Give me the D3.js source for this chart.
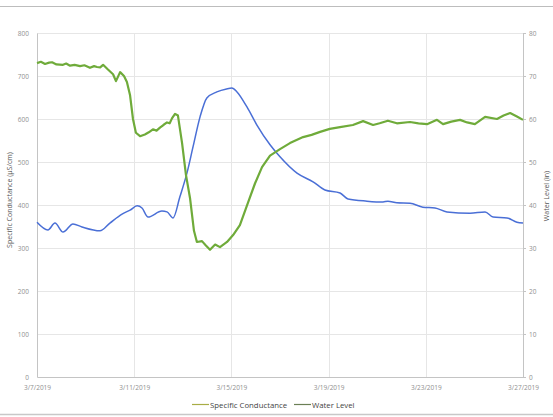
<!DOCTYPE html>
<html><head><meta charset="utf-8">
<script src="https://cdn.jsdelivr.net/npm/d3@7"></script>
<style>
html,body{margin:0;padding:0;background:#fff;}
svg{display:block;font-family:"Open Sans","Noto Sans",sans-serif;}
</style></head>
<body><svg id="c" width="553" height="417"></svg>
<script>
// ---- data ----
const startDate = Date.UTC(2019, 2, 7);
const dateTicks = ["3/7/2019","3/11/2019","3/15/2019","3/19/2019","3/23/2019","3/27/2019"];
const leftTicks = [0,100,200,300,400,500,600,700,800];
const rightTicks = [0,10,20,30,40,50,60,70,80];

// Specific Conductance (µS/cm), days since 3/7/2019
const condDays = [0,0.45,0.74,1.07,1.48,1.85,2.59,3.0,3.5,3.83,4.12,4.32,4.57,5.14,5.35,5.6,5.88,6.17,6.42,6.71,6.99,7.4,7.8,8.02,8.23,8.64,9.05,9.59,10.0,10.7,11.36,11.85,12.47,12.8,13.58,14.24,14.44,14.81,15.35,15.88,16.38,16.87,17.82,18.44,18.77,19.34,19.75,20];
const conductance = [360,342,358,337,356,349,340,358,379,388,398,393,372,386,384,370,419,474,535,605,649,663,670,672,663,628,586,540,512,474,454,435,428,414,409,407,409,405,404,395,393,384,381,384,372,370,360,358];

// Water Level (in)
const wlDays = [0,0.16,0.33,0.5,0.62,0.8,1.07,1.2,1.36,1.55,1.77,1.95,2.18,2.35,2.47,2.6,2.72,2.92,3.13,3.25,3.42,3.58,3.70,3.83,3.95,4.07,4.24,4.44,4.6,4.77,4.92,5.06,5.2,5.35,5.46,5.56,5.68,5.80,5.97,6.13,6.30,6.46,6.58,6.79,6.95,7.12,7.33,7.53,7.82,8.07,8.35,8.68,8.97,9.26,9.59,10.0,10.41,10.95,11.3,11.65,12.05,12.47,13.0,13.42,13.83,14.1,14.44,14.81,15.35,15.7,16.05,16.46,16.71,17.05,17.41,17.7,18.02,18.44,18.93,19.2,19.47,19.75,20.0];
const waterLevel = [73.0,73.3,72.8,73.1,73.2,72.7,72.6,72.9,72.4,72.6,72.3,72.5,71.9,72.3,72.1,72.0,72.6,71.5,70.4,68.8,70.9,70.0,68.6,65.5,60.0,56.8,56.0,56.4,56.9,57.6,57.3,58.0,58.6,59.2,59.0,60.2,61.2,60.8,54.4,47.0,41.5,34.0,31.4,31.6,30.6,29.6,30.8,30.2,31.4,33.0,35.3,40.5,45.0,48.8,51.5,53.0,54.4,55.8,56.3,57.0,57.7,58.1,58.6,59.5,58.6,59.0,59.6,59.0,59.3,59.0,58.8,59.8,58.8,59.4,59.8,59.2,58.8,60.5,60.0,60.8,61.4,60.6,59.8];

// ---- chart ----
const svg = d3.select("#c");
const m = {l:37, r:523, t:33, b:377};
const toDate = d => new Date(startDate + d*864e5);
const x = d3.scaleUtc().domain([toDate(0), toDate(20)]).range([m.l, m.r]);
const yL = d3.scaleLinear().domain([0,800]).range([m.b, m.t]);
const yR = d3.scaleLinear().domain([0,80]).range([m.b, m.t]);
const tickDates = dateTicks.map(s => { const [mo,da,yr] = s.split("/").map(Number); return new Date(Date.UTC(yr, mo-1, da)); });

// frame lines
svg.append("line").attr("x1",0).attr("x2",553).attr("y1",6.5).attr("y2",6.5).attr("stroke","#bdbdbd").attr("stroke-width",1);
svg.append("line").attr("x1",0).attr("x2",553).attr("y1",414.5).attr("y2",414.5).attr("stroke","#c8c8c8").attr("stroke-width",1.5);

// gridlines
const g = svg.append("g");
g.selectAll(".hg").data(leftTicks.slice(1)).join("line")
  .attr("x1",m.l).attr("x2",m.r).attr("y1",d=>Math.round(yL(d))+0.5).attr("y2",d=>Math.round(yL(d))+0.5)
  .attr("stroke","#e6e6e6");
g.selectAll(".vg").data(tickDates.slice(1,-1)).join("line")
  .attr("x1",d=>Math.round(x(d))+0.5).attr("x2",d=>Math.round(x(d))+0.5).attr("y1",m.t).attr("y2",m.b)
  .attr("stroke","#e6e6e6");

// axes
const axL = d3.axisLeft(yL).tickValues(leftTicks).tickSize(0).tickPadding(8);
const axR = d3.axisRight(yR).tickValues(rightTicks).tickSize(3).tickPadding(3);
const axB = d3.axisBottom(x).tickValues(tickDates).tickFormat(d3.utcFormat("%-m/%-d/%Y")).tickSize(0).tickPadding(8);
function style(sel){
  sel.select(".domain").attr("stroke","#c4c4c4");
  sel.selectAll(".tick line").attr("stroke","#c4c4c4");
  sel.selectAll("text").attr("fill","#909090").style("font-size","6.5px").style("font-family","'Open Sans',sans-serif");
}
svg.append("g").attr("transform",`translate(${m.l},0)`).call(axL).call(style);
svg.append("g").attr("transform",`translate(${m.r},0)`).call(axR).call(style);
svg.append("g").attr("transform",`translate(0,${m.b})`).call(axB).call(style);

// lines
const lineC = d3.line().x((d,i)=>x(toDate(condDays[i]))).y(d=>yL(d)).curve(d3.curveMonotoneX);
const lineW = d3.line().x((d,i)=>x(toDate(wlDays[i]))).y(d=>yR(d)).curve(d3.curveLinear);
svg.append("path").datum(conductance).attr("d",lineC).attr("fill","none").attr("stroke","#4a6fd6").attr("stroke-width",1.5);
svg.append("path").datum(waterLevel).attr("d",lineW).attr("fill","none").attr("stroke","#6fab3a").attr("stroke-width",2.2).attr("stroke-linejoin","round");

// axis titles
svg.append("text").attr("transform","translate(12,200) rotate(-90)").attr("text-anchor","middle")
  .style("font-size","7px").attr("fill","#555").text("Specific Conductance (µS/cm)");
svg.append("text").attr("transform","translate(549,196) rotate(-90)").attr("text-anchor","middle")
  .style("font-size","7px").attr("fill","#555").text("Water Level (in)");

// legend
const leg = [{label:"Specific Conductance", color:"#a8ad45", x:192},{label:"Water Level", color:"#6b7f55", x:294}];
const lg = svg.append("g");
leg.forEach(L=>{
  lg.append("line").attr("x1",L.x).attr("x2",L.x+17).attr("y1",404.5).attr("y2",404.5).attr("stroke",L.color).attr("stroke-width",1.2);
  lg.append("text").attr("x",L.x+18).attr("y",407.5).style("font-size","7.8px").attr("fill","#444").text(L.label);
});
</script></body></html>
